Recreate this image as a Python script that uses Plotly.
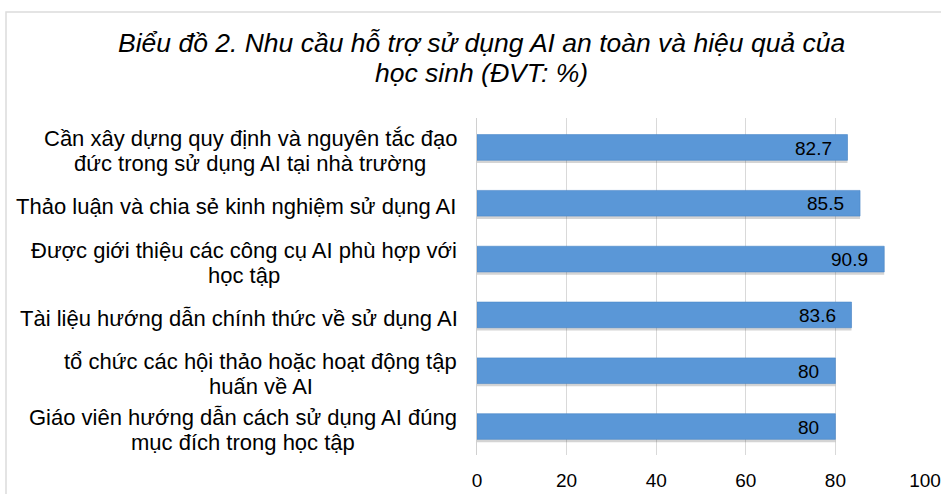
import unicodedata
import plotly.graph_objects as go

categories = [
    "Cần xây dựng quy định và nguyên tắc đạo<br>đức trong sử dụng AI tại nhà trường",
    "Thảo luận và chia sẻ kinh nghiệm sử dụng AI",
    "Được giới thiệu các công cụ AI phù hợp với<br>học tập",
    "Tài liệu hướng dẫn chính thức về sử dụng AI",
    "tổ chức các hội thảo hoặc hoạt động tập<br>huấn về AI",
    "Giáo viên hướng dẫn cách sử dụng AI đúng<br>mục đích trong học tập",
]
values = [82.7, 85.5, 90.9, 83.6, 80, 80]
value_labels = ["82.7", "85.5", "90.9", "83.6", "80", "80"]
x_ticks = [0, 20, 40, 60, 80, 100]
title_lines = [
    "Biểu đồ 2. Nhu cầu hỗ trợ sử dụng AI an toàn và hiệu quả của",
    "học sinh (ĐVT: %)",
]

W, H = 941, 494
L, R, T, B = 477, 16, 118, 39
pw = W - L - R
ph = H - T - B

FONT = "Liberation Sans, Arial, sans-serif"
LABEL_SIZE = 22
LINE_GAP = 25

# approximate Arial advance widths (per 1000 em) for centring multi-line labels
_AW = {" ": 278, "a": 556, "b": 556, "c": 500, "d": 556, "e": 556, "f": 278,
       "g": 556, "h": 556, "i": 222, "j": 222, "k": 500, "l": 222, "m": 833,
       "n": 556, "o": 556, "p": 556, "q": 556, "r": 333, "s": 500, "t": 278,
       "u": 556, "v": 500, "w": 722, "x": 500, "y": 500, "z": 500,
       "A": 667, "I": 278, "T": 611, "G": 778, "C": 722, "Đ": 722, "đ": 556}


def text_width(s, size):
    total = 0
    for ch in unicodedata.normalize("NFD", s):
        if ch == "\u031b":  # horn makes ư / ơ wider
            total += 95
            continue
        if unicodedata.combining(ch):
            continue
        total += _AW.get(ch, 556)
    return total * size / 1000


def py(ypx):
    return (H - B - ypx) / ph


def px(xpx):
    return (xpx - L) / pw


fig = go.Figure()

# subtle shadow
fig.add_trace(go.Bar(
    y=categories, x=values, orientation="h",
    marker=dict(color="rgba(60,60,60,0.22)", line=dict(width=0)),
    width=0.47, offset=-0.2, hoverinfo="skip", showlegend=False,
))
fig.add_trace(go.Bar(
    y=categories, x=values, orientation="h",
    marker=dict(color="#5A97D7", line=dict(color="#4A86C8", width=0.6)),
    width=0.46, offset=-0.24, showlegend=False,
))

annotations = []
for c, v, lab in zip(categories, values, value_labels):
    annotations.append(dict(
        x=v, y=c, xref="x", yref="y", text=lab, showarrow=False,
        xanchor="right", yanchor="middle", xshift=-14, yshift=0,
        font=dict(family=FONT, size=19, color="#000000"),
    ))
    lines = c.split("<br>")
    block_w = max(text_width(s, LABEL_SIZE) for s in lines)
    cx = 457 - block_w / 2
    n = len(lines)
    for k, s in enumerate(lines):
        off = (k - (n - 1) / 2) * LINE_GAP
        annotations.append(dict(
            x=px(cx), y=c, xref="paper", yref="y", text=s, showarrow=False,
            xanchor="center", yanchor="middle", yshift=-3 - off,
            font=dict(family=FONT, size=LABEL_SIZE, color="#000000"),
        ))

for i, line in enumerate(title_lines):
    annotations.append(dict(
        x=px(481.5), y=py(43 + 30 * i), xref="paper", yref="paper",
        text="<i>" + line + "</i>", showarrow=False,
        xanchor="center", yanchor="middle",
        font=dict(family=FONT, size=26.5, color="#000000"),
    ))

fig.update_layout(
    width=W, height=H, autosize=False,
    margin=dict(l=L, r=R, t=T, b=B, pad=0, autoexpand=False),
    paper_bgcolor="white", plot_bgcolor="white",
    barmode="overlay",
    xaxis=dict(
        range=[0, 100], tickvals=x_ticks, ticktext=[str(t) for t in x_ticks],
        showgrid=True, gridcolor="#D9D9D9", gridwidth=1.2,
        zeroline=False, showline=False, ticks="",
        ticklabelstandoff=12, automargin=False,
        tickfont=dict(family=FONT, size=19, color="#000000"),
        fixedrange=True,
    ),
    yaxis=dict(
        categoryorder="array", categoryarray=categories,
        autorange="reversed", showticklabels=False, showgrid=False,
        showline=True, linecolor="#D0D0D0", linewidth=1.2, ticks="",
        zeroline=False, automargin=False,
    ),
    annotations=annotations,
    shapes=[dict(
        type="rect", xref="paper", yref="paper",
        x0=px(6), x1=px(W + 10),
        y0=py(H + 10), y1=py(12),
        line=dict(color="#DCDCDC", width=1.5), fillcolor="rgba(0,0,0,0)",
        layer="below",
    )],
)

fig.write_html(
    "out.html",
    config={"displayModeBar": False, "responsive": False},
    post_script="document.body.style.margin='0';document.body.style.overflow='hidden';",
)
